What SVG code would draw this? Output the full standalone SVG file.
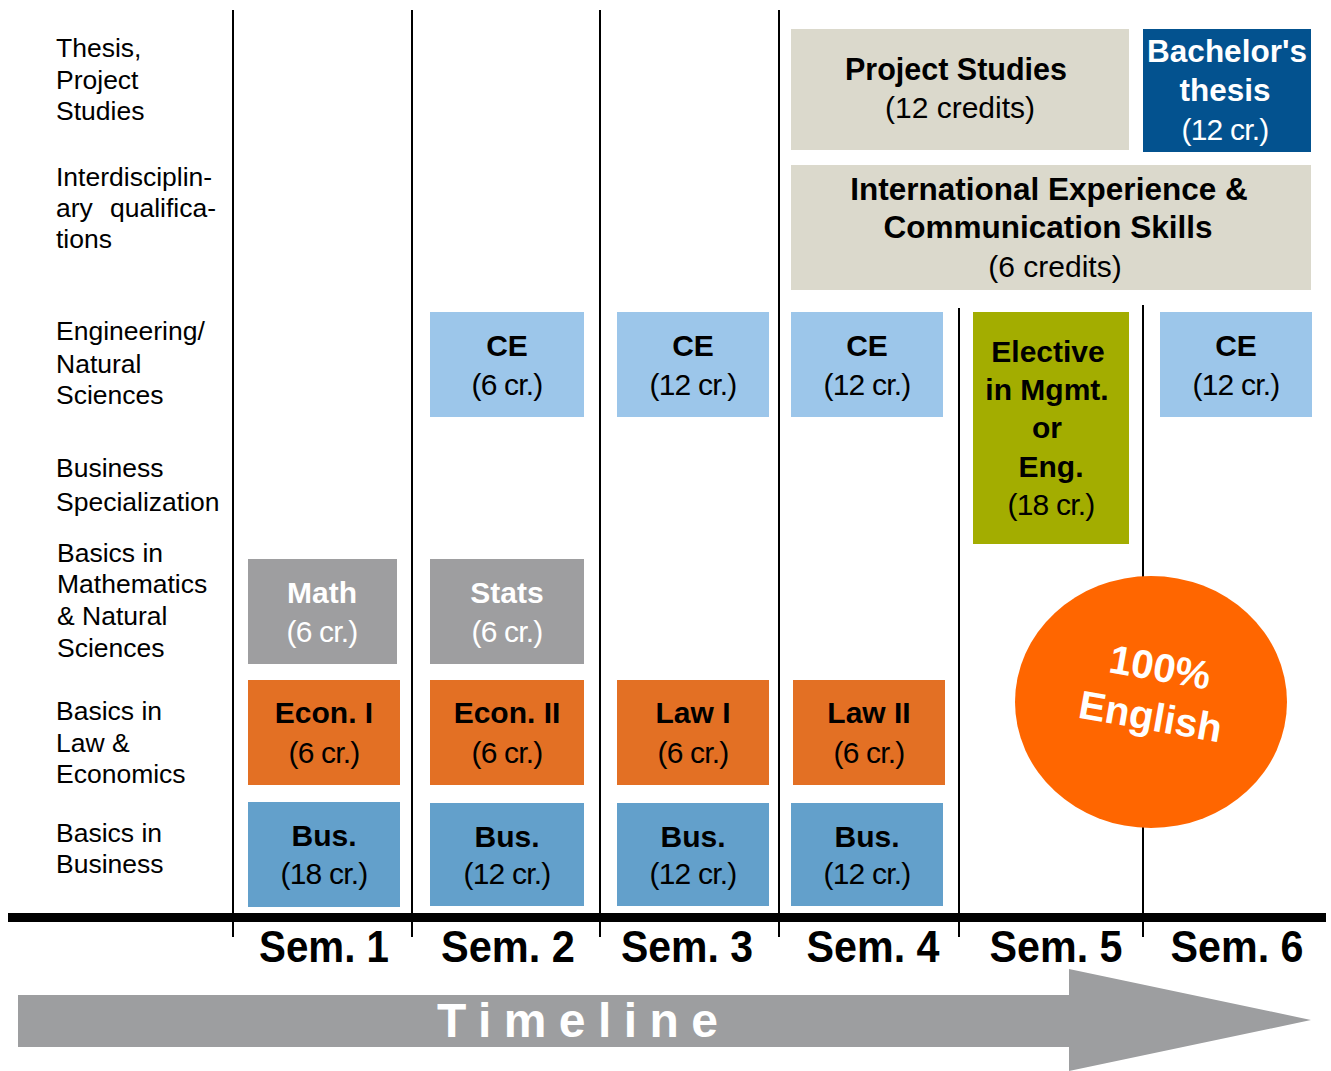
<svg xmlns="http://www.w3.org/2000/svg" width="1331" height="1071" viewBox="0 0 1331 1071">
  <style>
    text { font-family: "Liberation Sans", Arial, sans-serif; }
    .lbl { font-size: 26.5px; fill: #000; }
    .b { font-size: 30px; font-weight: bold; text-anchor: middle; fill: #000; }
    .c { font-size: 30px; text-anchor: middle; fill: #000; letter-spacing: -0.8px; }
    .w { fill: #fff; }
    .sem { font-size: 44px; font-weight: bold; text-anchor: middle; fill: #000; }
    .grid { stroke: #000; stroke-width: 2; fill: none; }
    .gray { fill: #9e9ea0; }
    .orange { fill: #e37024; }
    .blue { fill: #63a0cb; }
    .lblue { fill: #9cc6ea; }
    .beige { fill: #dbd9cc; }
    .navy { fill: #03528f; }
    .olive { fill: #a3ad00; }
  </style>

  <rect width="1331" height="1071" fill="#fff"/>

  <!-- row labels -->
  <g id="row-labels" class="lbl">
    <text x="56" y="57">Thesis,</text>
    <text x="56" y="89">Project</text>
    <text x="56" y="120">Studies</text>
    <text x="56" y="186">Interdisciplin-</text>
    <text x="56" y="217">ary</text>
    <text x="216" y="217" text-anchor="end">qualifica-</text>
    <text x="56" y="248">tions</text>
    <text x="56" y="340">Engineering/</text>
    <text x="56" y="373">Natural</text>
    <text x="56" y="404">Sciences</text>
    <text x="56" y="477">Business</text>
    <text x="56" y="511">Specialization</text>
    <text x="57" y="562">Basics in</text>
    <text x="57" y="593">Mathematics</text>
    <text x="57" y="625">&amp; Natural</text>
    <text x="57" y="657">Sciences</text>
    <text x="56" y="720">Basics in</text>
    <text x="56" y="752">Law &amp;</text>
    <text x="56" y="783">Economics</text>
    <text x="56" y="842">Basics in</text>
    <text x="56" y="873">Business</text>
  </g>

  <!-- semester grid lines and baseline -->
  <g id="grid">
    <line class="grid" x1="233" y1="10" x2="233" y2="937"/>
    <line class="grid" x1="412" y1="10" x2="412" y2="937"/>
    <line class="grid" x1="600" y1="10" x2="600" y2="937"/>
    <line class="grid" x1="779" y1="10" x2="779" y2="937" stroke-width="2.5"/>
    <line class="grid" x1="959" y1="308" x2="959" y2="937" stroke-width="2.5"/>
    <line class="grid" x1="1143" y1="305" x2="1143" y2="937"/>
    <rect x="8" y="913" width="1318" height="9" fill="#000"/>
  </g>

  <!-- semester 1 -->
  <g id="math">
    <rect class="gray" x="248" y="559" width="149" height="105"/>
    <text class="b w" x="322" y="603">Math</text>
    <text class="c w" x="322" y="642">(6 cr.)</text>
  </g>
  <g id="econ1">
    <rect class="orange" x="248" y="680" width="152" height="105"/>
    <text class="b" x="324" y="723">Econ. I</text>
    <text class="c" x="324" y="763">(6 cr.)</text>
  </g>
  <g id="bus1">
    <rect class="blue" x="248" y="802" width="152" height="105"/>
    <text class="b" x="324" y="846">Bus.</text>
    <text class="c" x="324" y="884">(18 cr.)</text>
  </g>

  <!-- semester 2 -->
  <g id="ce2">
    <rect class="lblue" x="430" y="312" width="154" height="105"/>
    <text class="b" x="507" y="356">CE</text>
    <text class="c" x="507" y="395">(6 cr.)</text>
  </g>
  <g id="stats">
    <rect class="gray" x="430" y="559" width="154" height="105"/>
    <text class="b w" x="507" y="603">Stats</text>
    <text class="c w" x="507" y="642">(6 cr.)</text>
  </g>
  <g id="econ2">
    <rect class="orange" x="430" y="680" width="154" height="105"/>
    <text class="b" x="507" y="723">Econ. II</text>
    <text class="c" x="507" y="763">(6 cr.)</text>
  </g>
  <g id="bus2">
    <rect class="blue" x="430" y="803" width="154" height="103"/>
    <text class="b" x="507" y="847">Bus.</text>
    <text class="c" x="507" y="884">(12 cr.)</text>
  </g>

  <!-- semester 3 -->
  <g id="ce3">
    <rect class="lblue" x="617" y="312" width="152" height="105"/>
    <text class="b" x="693" y="356">CE</text>
    <text class="c" x="693" y="395">(12 cr.)</text>
  </g>
  <g id="law1">
    <rect class="orange" x="617" y="680" width="152" height="105"/>
    <text class="b" x="693" y="723">Law I</text>
    <text class="c" x="693" y="763">(6 cr.)</text>
  </g>
  <g id="bus3">
    <rect class="blue" x="617" y="803" width="152" height="103"/>
    <text class="b" x="693" y="847">Bus.</text>
    <text class="c" x="693" y="884">(12 cr.)</text>
  </g>

  <!-- semester 4 -->
  <g id="project-studies">
    <rect class="beige" x="791" y="29" width="338" height="121"/>
    <text class="b" x="956" y="80" style="font-size:30.5px">Project Studies</text>
    <text class="c" x="960" y="118" style="letter-spacing:0">(12 credits)</text>
  </g>
  <g id="intl-experience">
    <rect class="beige" x="791" y="165" width="520" height="125"/>
    <text class="b" x="1049" y="200" style="font-size:31.5px">International Experience &amp;</text>
    <text class="b" x="1048" y="238" style="font-size:31.5px">Communication Skills</text>
    <text class="c" x="1055" y="277" style="letter-spacing:0">(6 credits)</text>
  </g>
  <g id="ce4">
    <rect class="lblue" x="791" y="312" width="152" height="105"/>
    <text class="b" x="867" y="356">CE</text>
    <text class="c" x="867" y="395">(12 cr.)</text>
  </g>
  <g id="law2">
    <rect class="orange" x="793" y="680" width="152" height="105"/>
    <text class="b" x="869" y="723">Law II</text>
    <text class="c" x="869" y="763">(6 cr.)</text>
  </g>
  <g id="bus4">
    <rect class="blue" x="791" y="803" width="152" height="103"/>
    <text class="b" x="867" y="847">Bus.</text>
    <text class="c" x="867" y="884">(12 cr.)</text>
  </g>

  <!-- semester 5 -->
  <g id="elective">
    <rect class="olive" x="973" y="312" width="156" height="232"/>
    <text class="b" x="1048" y="362">Elective</text>
    <text class="b" x="1047" y="400">in Mgmt.</text>
    <text class="b" x="1047" y="438">or</text>
    <text class="b" x="1051" y="477">Eng.</text>
    <text class="c" x="1051" y="515">(18 cr.)</text>
  </g>

  <!-- semester 6 -->
  <g id="bachelor-thesis">
    <rect class="navy" x="1143" y="29" width="168" height="123"/>
    <text class="b w" x="1227" y="62" style="font-size:31.5px">Bachelor's</text>
    <text class="b w" x="1225" y="101" style="font-size:31.5px">thesis</text>
    <text class="c w" x="1225" y="140">(12 cr.)</text>
  </g>
  <g id="ce6">
    <rect class="lblue" x="1160" y="312" width="152" height="105"/>
    <text class="b" x="1236" y="356">CE</text>
    <text class="c" x="1236" y="395">(12 cr.)</text>
  </g>

  <!-- language badge -->
  <g id="english-badge">
    <ellipse cx="1151" cy="702" rx="136" ry="126" fill="#ff6600"/>
    <g transform="rotate(10 1151 702)">
      <text x="1154" y="680" text-anchor="middle" font-size="40" font-weight="bold" fill="#fff">100%</text>
      <text x="1153" y="730" text-anchor="middle" font-size="40" font-weight="bold" fill="#fff">English</text>
    </g>
  </g>

  <!-- semester captions -->
  <g id="semesters">
    <text class="sem" x="324" y="962" textLength="130" lengthAdjust="spacingAndGlyphs">Sem. 1</text>
    <text class="sem" x="508" y="962" textLength="134" lengthAdjust="spacingAndGlyphs">Sem. 2</text>
    <text class="sem" x="687" y="962" textLength="132" lengthAdjust="spacingAndGlyphs">Sem. 3</text>
    <text class="sem" x="873" y="962" textLength="133" lengthAdjust="spacingAndGlyphs">Sem. 4</text>
    <text class="sem" x="1056" y="962" textLength="133" lengthAdjust="spacingAndGlyphs">Sem. 5</text>
    <text class="sem" x="1237" y="962" textLength="133" lengthAdjust="spacingAndGlyphs">Sem. 6</text>
  </g>

  <!-- timeline arrow -->
  <g id="timeline">
    <polygon points="18,995 1069,995 1069,969 1311,1020 1069,1071 1069,1047 18,1047" fill="#9d9ea0"/>
    <text x="437" y="1037" font-size="48" font-weight="bold" fill="#fff" textLength="281" lengthAdjust="spacing">Timeline</text>
  </g>
</svg>
